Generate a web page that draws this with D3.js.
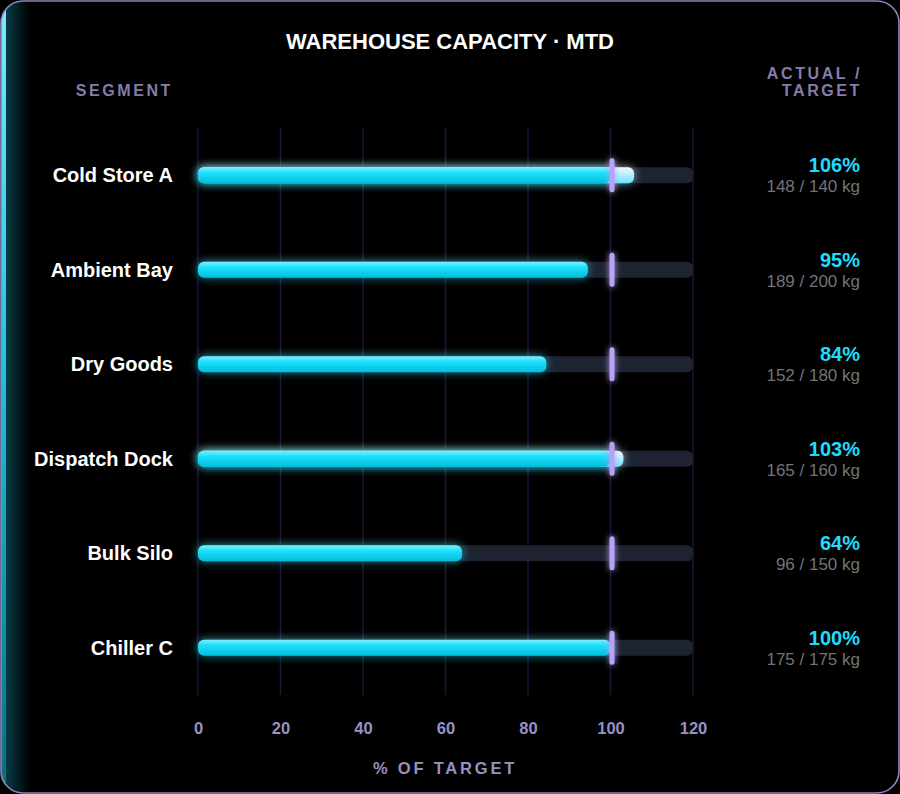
<!DOCTYPE html>
<html>
<head>
<meta charset="utf-8">
<script src="https://cdn.jsdelivr.net/npm/d3@7"></script>
<style>
  body { margin: 0; background: #000; }
  svg { display: block; font-family: "Liberation Sans", Arial, sans-serif; }
</style>
</head>
<body>
<svg id="chart" width="900" height="794"></svg>
<script>
// data
const segments = ['Cold Store A', 'Ambient Bay', 'Dry Goods', 'Dispatch Dock', 'Bulk Silo', 'Chiller C'];
const actualKg = [148, 189, 152, 165, 96, 175];
const targetKg = [140, 200, 180, 160, 150, 175];
const xTicks = [0, 20, 40, 60, 80, 100, 120];

const W = 900, H = 794;
const svg = d3.select('#chart');
const defs = svg.append('defs');

// card clip + left accent
defs.append('clipPath').attr('id', 'cardClip')
    .append('rect').attr('x', 1).attr('y', 1).attr('width', W - 2).attr('height', H - 2).attr('rx', 22);

const accent = defs.append('linearGradient').attr('id', 'accent').attr('x1', 0).attr('y1', 0).attr('x2', 0).attr('y2', 1);
accent.append('stop').attr('offset', '0%').attr('stop-color', '#7fe9ff');
accent.append('stop').attr('offset', '45%').attr('stop-color', '#22c4e0');
accent.append('stop').attr('offset', '100%').attr('stop-color', '#0b6d7c');

const accentGlow = defs.append('linearGradient').attr('id', 'accentGlow').attr('x1', 0).attr('y1', 0).attr('x2', 1).attr('y2', 0);
accentGlow.append('stop').attr('offset', '0%').attr('stop-color', '#0fb8d6').attr('stop-opacity', 0.4);
accentGlow.append('stop').attr('offset', '100%').attr('stop-color', '#0fb8d6').attr('stop-opacity', 0);

const barGrad = defs.append('linearGradient').attr('id', 'barGrad').attr('x1', 0).attr('y1', 0).attr('x2', 0).attr('y2', 1);
barGrad.append('stop').attr('offset', '0%').attr('stop-color', '#7cf0ff');
barGrad.append('stop').attr('offset', '35%').attr('stop-color', '#1ee0fb');
barGrad.append('stop').attr('offset', '100%').attr('stop-color', '#00bedc');

const overGrad = defs.append('linearGradient').attr('id', 'overGrad').attr('x1', 0).attr('y1', 0).attr('x2', 0).attr('y2', 1);
overGrad.append('stop').attr('offset', '0%').attr('stop-color', '#f2fbff');
overGrad.append('stop').attr('offset', '100%').attr('stop-color', '#6fe3ff');

const glow = defs.append('filter').attr('id', 'glow').attr('x', '-10%').attr('y', '-150%').attr('width', '120%').attr('height', '400%');
glow.append('feGaussianBlur').attr('in', 'SourceGraphic').attr('stdDeviation', 5).attr('result', 'b');
glow.append('feComponentTransfer').attr('in', 'b').attr('result', 'b2')
    .append('feFuncA').attr('type', 'linear').attr('slope', 0.7);
const gm = glow.append('feMerge');
gm.append('feMergeNode').attr('in', 'b2');
gm.append('feMergeNode').attr('in', 'SourceGraphic');

const mGlow = defs.append('filter').attr('id', 'mGlow').attr('x', '-300%').attr('y', '-50%').attr('width', '700%').attr('height', '200%');
mGlow.append('feGaussianBlur').attr('in', 'SourceGraphic').attr('stdDeviation', 3).attr('result', 'b');
const mm = mGlow.append('feMerge');
mm.append('feMergeNode').attr('in', 'b');
mm.append('feMergeNode').attr('in', 'SourceGraphic');

const card = svg.append('g').attr('clip-path', 'url(#cardClip)');
card.append('rect').attr('width', W).attr('height', H).attr('fill', '#000');
card.append('rect').attr('x', 0).attr('y', 0).attr('width', 30).attr('height', H).attr('fill', 'url(#accentGlow)');
card.append('rect').attr('x', 0).attr('y', 0).attr('width', 6).attr('height', H).attr('fill', 'url(#accent)');
svg.append('rect').attr('x', 1).attr('y', 1).attr('width', W - 2).attr('height', H - 2).attr('rx', 22)
    .attr('fill', 'none').attr('stroke', '#8f83bf').attr('stroke-width', 1.6);

// scales
const x = d3.scaleLinear().domain([0, 120]).range([198, 693]);
const y = d3.scaleBand().domain(segments).range([128, 695]);
const barH = 16;

// headers
svg.append('text').attr('x', 450).attr('y', 49).attr('text-anchor', 'middle')
    .attr('fill', '#fff').attr('font-size', 22).attr('font-weight', 'bold')
    .text('WAREHOUSE CAPACITY · MTD');
svg.append('text').attr('x', 173).attr('y', 96).attr('text-anchor', 'end')
    .attr('fill', '#857ca9').attr('font-size', 16).attr('font-weight', 'bold').attr('letter-spacing', 2.6)
    .text('SEGMENT');
svg.append('text').attr('x', 862).attr('text-anchor', 'end')
    .attr('fill', '#857ca9').attr('font-size', 16).attr('font-weight', 'bold').attr('letter-spacing', 2.6)
    .selectAll('tspan').data(['ACTUAL /', 'TARGET']).join('tspan')
    .attr('x', 862).attr('y', (d, i) => 79 + i * 17).text(d => d);

// grid
svg.append('g').selectAll('line').data(xTicks).join('line')
    .attr('x1', d => x(d)).attr('x2', d => x(d))
    .attr('y1', 128).attr('y2', 695)
    .attr('stroke', '#1d1638').attr('stroke-width', 1.5);

// x axis
const xAxis = svg.append('g').attr('transform', 'translate(0,722)')
    .call(d3.axisBottom(x).tickValues(xTicks).tickSize(0).tickPadding(0));
xAxis.select('.domain').remove();
xAxis.selectAll('text').attr('fill', '#9890c2').attr('font-size', 16.5).attr('font-weight', 'bold')
    .attr('font-family', '"Liberation Sans", Arial, sans-serif');
svg.append('text').attr('x', 445).attr('y', 774).attr('text-anchor', 'middle')
    .attr('fill', '#9890c2').attr('font-size', 16.5).attr('font-weight', 'bold').attr('letter-spacing', 2.8)
    .text('% OF TARGET');

const rows = segments.map((s, i) => ({
  name: s, actual: actualKg[i], target: targetKg[i], pct: actualKg[i] / targetKg[i] * 100
}));

const row = svg.append('g').selectAll('g').data(rows).join('g')
    .attr('transform', d => `translate(0,${y(d.name) + y.bandwidth() / 2})`);

// track
row.append('rect').attr('x', x(0)).attr('y', -barH / 2)
    .attr('width', x(120) - x(0)).attr('height', barH).attr('rx', 6)
    .attr('fill', '#1e2331');

// over-target part
row.filter(d => d.pct > 100).append('rect')
    .attr('x', x(0)).attr('y', -barH / 2)
    .attr('width', d => x(d.pct) - x(0)).attr('height', barH).attr('rx', 6)
    .attr('fill', 'url(#overGrad)').attr('filter', 'url(#glow)');

// main fill, capped at target
row.append('rect')
    .attr('x', x(0)).attr('y', -barH / 2)
    .attr('width', d => x(Math.min(d.pct, 100)) - x(0)).attr('height', barH).attr('rx', 6)
    .attr('fill', 'url(#barGrad)').attr('filter', 'url(#glow)');

// target marker
row.append('rect').attr('x', x(100) - 1).attr('y', -17)
    .attr('width', 5).attr('height', 34).attr('rx', 2.5)
    .attr('fill', '#b8a2f7').attr('filter', 'url(#mGlow)');

// labels
row.append('text').attr('x', 173).attr('y', 7).attr('text-anchor', 'end')
    .attr('fill', '#fff').attr('font-size', 20).attr('font-weight', 'bold')
    .text(d => d.name);
row.append('text').attr('x', 860).attr('y', -3).attr('text-anchor', 'end')
    .attr('fill', '#1fdcff').attr('font-size', 20).attr('font-weight', 'bold')
    .text(d => Math.round(d.pct) + '%');
row.append('text').attr('x', 860).attr('y', 17).attr('text-anchor', 'end')
    .attr('fill', '#737377').attr('font-size', 17)
    .text(d => `${d.actual} / ${d.target} kg`);
</script>
</body>
</html>
